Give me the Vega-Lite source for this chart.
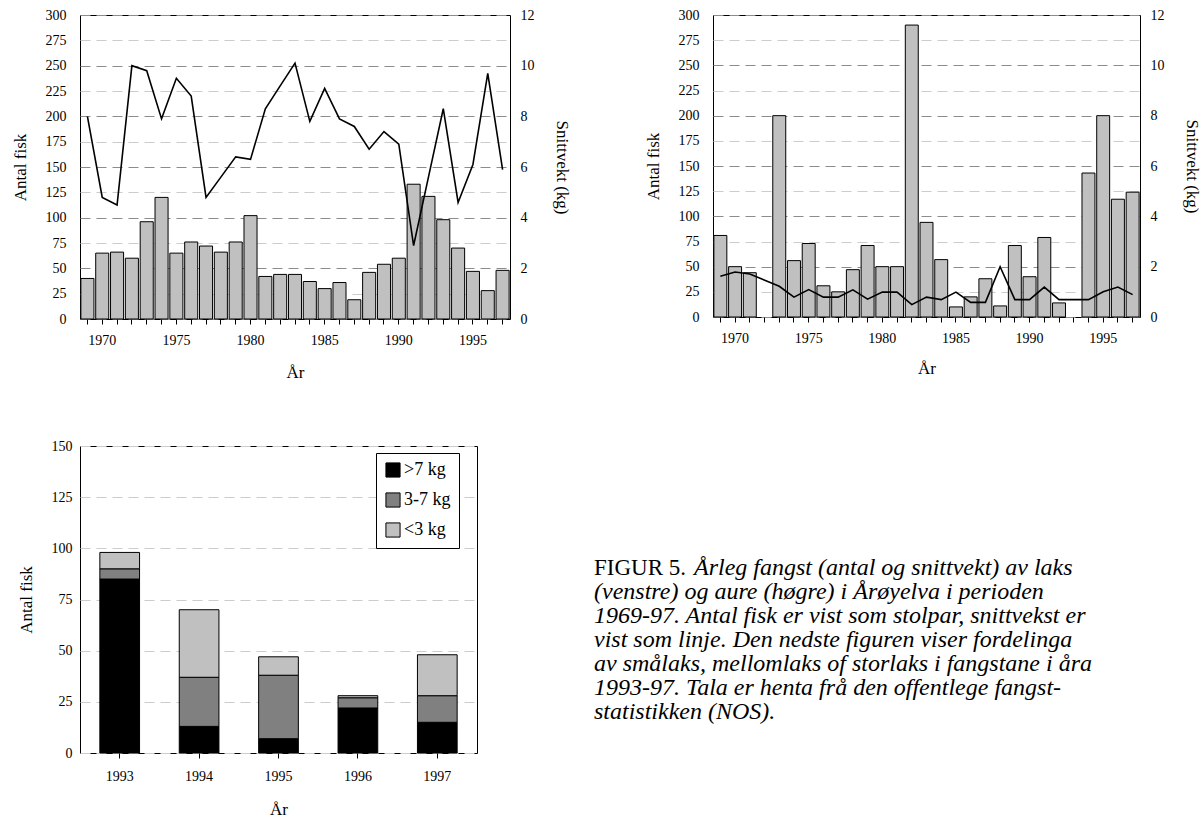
{
  "$schema": "https://vega.github.io/schema/vega-lite/v6.json",
  "background": "#ffffff",
  "padding": {"left": 10, "top": 7, "right": 0, "bottom": 0},
  "config": {
    "font": "Liberation Serif",
    "view": {"stroke": "#000000", "strokeWidth": 1},
    "axis": {
      "labelFont": "Liberation Serif",
      "titleFont": "Liberation Serif",
      "labelFontSize": 14,
      "titleFontSize": 17,
      "titleFontWeight": "normal",
      "labelColor": "#000000",
      "titleColor": "#000000",
      "domain": false,
      "tickColor": "#000000"
    }
  },
  "datasets": {
    "laks": [
      {"year": 1969, "antal": 40, "kg": 8.0},
      {"year": 1970, "antal": 65, "kg": 4.8},
      {"year": 1971, "antal": 66, "kg": 4.5},
      {"year": 1972, "antal": 60, "kg": 10.0},
      {"year": 1973, "antal": 96, "kg": 9.8},
      {"year": 1974, "antal": 120, "kg": 7.9},
      {"year": 1975, "antal": 65, "kg": 9.5},
      {"year": 1976, "antal": 76, "kg": 8.8},
      {"year": 1977, "antal": 72, "kg": 4.8},
      {"year": 1978, "antal": 66, "kg": 5.6},
      {"year": 1979, "antal": 76, "kg": 6.4},
      {"year": 1980, "antal": 102, "kg": 6.3},
      {"year": 1981, "antal": 42, "kg": 8.3},
      {"year": 1982, "antal": 44, "kg": 9.2},
      {"year": 1983, "antal": 44, "kg": 10.1},
      {"year": 1984, "antal": 37, "kg": 7.8},
      {"year": 1985, "antal": 30, "kg": 9.1},
      {"year": 1986, "antal": 36, "kg": 7.9},
      {"year": 1987, "antal": 19, "kg": 7.6},
      {"year": 1988, "antal": 46, "kg": 6.7},
      {"year": 1989, "antal": 54, "kg": 7.4},
      {"year": 1990, "antal": 60, "kg": 6.9},
      {"year": 1991, "antal": 133, "kg": 2.9},
      {"year": 1992, "antal": 121, "kg": 5.6},
      {"year": 1993, "antal": 98, "kg": 8.3},
      {"year": 1994, "antal": 70, "kg": 4.6},
      {"year": 1995, "antal": 47, "kg": 6.1},
      {"year": 1996, "antal": 28, "kg": 9.7},
      {"year": 1997, "antal": 48, "kg": 5.9}
    ],
    "aure": [
      {"year": 1969, "antal": 81, "kg": 1.62},
      {"year": 1970, "antal": 50, "kg": 1.79},
      {"year": 1971, "antal": 44, "kg": 1.71},
      {"year": 1973, "antal": 200, "kg": 1.22},
      {"year": 1974, "antal": 56, "kg": 0.79},
      {"year": 1975, "antal": 73, "kg": 1.09},
      {"year": 1976, "antal": 31, "kg": 0.79},
      {"year": 1977, "antal": 25, "kg": 0.79},
      {"year": 1978, "antal": 47, "kg": 1.08},
      {"year": 1979, "antal": 71, "kg": 0.71},
      {"year": 1980, "antal": 50, "kg": 0.99},
      {"year": 1981, "antal": 50, "kg": 0.99},
      {"year": 1982, "antal": 290, "kg": 0.49},
      {"year": 1983, "antal": 94, "kg": 0.79},
      {"year": 1984, "antal": 57, "kg": 0.69},
      {"year": 1985, "antal": 10, "kg": 0.99},
      {"year": 1986, "antal": 20, "kg": 0.58},
      {"year": 1987, "antal": 38, "kg": 0.58},
      {"year": 1988, "antal": 11, "kg": 2.0},
      {"year": 1989, "antal": 71, "kg": 0.69},
      {"year": 1990, "antal": 40, "kg": 0.69},
      {"year": 1991, "antal": 79, "kg": 1.19},
      {"year": 1992, "antal": 14, "kg": 0.69},
      {"year": 1994, "antal": 143, "kg": 0.69},
      {"year": 1995, "antal": 200, "kg": 1.0},
      {"year": 1996, "antal": 117, "kg": 1.19},
      {"year": 1997, "antal": 124, "kg": 0.89}
    ],
    "split": [
      {"year": 1993, "klasse": ">7 kg", "ord": 1, "n": 85},
      {"year": 1993, "klasse": "3-7 kg", "ord": 2, "n": 5},
      {"year": 1993, "klasse": "<3 kg", "ord": 3, "n": 8},
      {"year": 1994, "klasse": ">7 kg", "ord": 1, "n": 13},
      {"year": 1994, "klasse": "3-7 kg", "ord": 2, "n": 24},
      {"year": 1994, "klasse": "<3 kg", "ord": 3, "n": 33},
      {"year": 1995, "klasse": ">7 kg", "ord": 1, "n": 7},
      {"year": 1995, "klasse": "3-7 kg", "ord": 2, "n": 31},
      {"year": 1995, "klasse": "<3 kg", "ord": 3, "n": 9},
      {"year": 1996, "klasse": ">7 kg", "ord": 1, "n": 22},
      {"year": 1996, "klasse": "3-7 kg", "ord": 2, "n": 5},
      {"year": 1996, "klasse": "<3 kg", "ord": 3, "n": 1},
      {"year": 1997, "klasse": ">7 kg", "ord": 1, "n": 15},
      {"year": 1997, "klasse": "3-7 kg", "ord": 2, "n": 13},
      {"year": 1997, "klasse": "<3 kg", "ord": 3, "n": 20}
    ],
    "caption": [
      {"line": 1, "part": "head", "text": "FIGUR 5."},
      {"line": 1, "part": "lead", "text": "Årleg fangst (antal og snittvekt) av laks"},
      {"line": 2, "part": "body", "text": "(venstre) og aure (høgre) i Årøyelva i perioden"},
      {"line": 3, "part": "body", "text": "1969-97. Antal fisk er vist som stolpar, snittvekst er"},
      {"line": 4, "part": "body", "text": "vist som linje. Den nedste figuren viser fordelinga"},
      {"line": 5, "part": "body", "text": "av smålaks, mellomlaks of storlaks i fangstane i åra"},
      {"line": 6, "part": "body", "text": "1993-97. Tala er henta frå den offentlege fangst-"},
      {"line": 7, "part": "body", "text": "statistikken (NOS)."}
    ]
  },
  "columns": 1,
  "align": "none",
  "spacing": 57,
  "resolve": {"legend": {"color": "independent"}},
  "concat": [
    {
      "spacing": 72,
      "hconcat": [
        {
          "width": 430,
          "height": 304,
          "data": {"name": "laks"},
          "layer": [
            {
              "mark": {"type": "bar", "fill": "#c0c0c0", "stroke": "#000000", "strokeWidth": 1},
              "encoding": {
                "x": {
                  "field": "year", "type": "ordinal",
                  "scale": {"domain": [1969,1970,1971,1972,1973,1974,1975,1976,1977,1978,1979,1980,1981,1982,1983,1984,1985,1986,1987,1988,1989,1990,1991,1992,1993,1994,1995,1996,1997], "paddingInner": 0.12, "paddingOuter": 0.06},
                  "axis": {"title": "År", "labelAngle": 0, "ticks": true, "tickSize": 5, "labelPadding": 9, "titlePadding": 17, "labelExpr": "datum.value % 5 == 0 ? datum.label : ''"}
                },
                "y": {
                  "field": "antal", "type": "quantitative",
                  "scale": {"domain": [0, 300]},
                  "axis": {
                    "title": "Antal fisk", "values": [0,25,50,75,100,125,150,175,200,225,250,275,300],
                    "ticks": false, "labelPadding": 14, "titlePadding": 16,
                    "gridDash": [10, 6], "gridWidth": 1.2,
                    "gridColor": {"condition": {"test": "datum.value % 50 === 0", "value": "#8c8c8c"}, "value": "#cccccc"}
                  }
                }
              }
            },
            {
              "mark": {"type": "line", "color": "#000000", "strokeWidth": 1.6},
              "encoding": {
                "x": {"field": "year", "type": "ordinal"},
                "y": {
                  "field": "kg", "type": "quantitative",
                  "scale": {"domain": [0, 12]},
                  "axis": {"orient": "right", "title": "Snittvekt (kg)", "titleAngle": 90, "values": [0,2,4,6,8,10,12], "grid": false, "ticks": false, "labelPadding": 10, "titlePadding": 18}
                }
              }
            }
          ],
          "resolve": {"scale": {"y": "independent"}}
        },
        {
          "width": 427,
          "height": 302,
          "data": {"name": "aure"},
          "layer": [
            {
              "mark": {"type": "bar", "fill": "#c0c0c0", "stroke": "#000000", "strokeWidth": 1},
              "encoding": {
                "x": {
                  "field": "year", "type": "ordinal",
                  "scale": {"domain": [1969,1970,1971,1972,1973,1974,1975,1976,1977,1978,1979,1980,1981,1982,1983,1984,1985,1986,1987,1988,1989,1990,1991,1992,1993,1994,1995,1996,1997], "paddingInner": 0.12, "paddingOuter": 0.06},
                  "axis": {"title": "År", "labelAngle": 0, "ticks": true, "tickSize": 5, "labelPadding": 9, "titlePadding": 15, "labelExpr": "datum.value % 5 == 0 ? datum.label : ''"}
                },
                "y": {
                  "field": "antal", "type": "quantitative",
                  "scale": {"domain": [0, 300]},
                  "axis": {
                    "title": "Antal fisk", "values": [0,25,50,75,100,125,150,175,200,225,250,275,300],
                    "ticks": false, "labelPadding": 14, "titlePadding": 16,
                    "gridDash": [10, 6], "gridWidth": 1.2,
                    "gridColor": {"condition": {"test": "datum.value % 50 === 0", "value": "#8c8c8c"}, "value": "#cccccc"}
                  }
                }
              }
            },
            {
              "mark": {"type": "line", "color": "#000000", "strokeWidth": 1.6},
              "encoding": {
                "x": {"field": "year", "type": "ordinal"},
                "y": {
                  "field": "kg", "type": "quantitative",
                  "scale": {"domain": [0, 12]},
                  "axis": {"orient": "right", "title": "Snittvekt (kg)", "titleAngle": 90, "values": [0,2,4,6,8,10,12], "grid": false, "ticks": false, "labelPadding": 10, "titlePadding": 18}
                }
              }
            }
          ],
          "resolve": {"scale": {"y": "independent"}}
        }
      ]
    },
    {
      "spacing": 116,
      "resolve": {"legend": {"color": "independent"}},
      "hconcat": [
        {
          "width": 397,
          "height": 307,
          "data": {"name": "split"},
          "mark": {"type": "bar", "stroke": "#000000", "strokeWidth": 1},
          "encoding": {
            "x": {
              "field": "year", "type": "ordinal",
              "scale": {"paddingInner": 0.5, "paddingOuter": 0.25},
              "axis": {"title": "År", "labelAngle": 0, "ticks": true, "tickSize": 5, "labelPadding": 11, "titlePadding": 18}
            },
            "y": {
              "field": "n", "type": "quantitative", "stack": "zero",
              "scale": {"domain": [0, 150]},
              "axis": {"title": "Antal fisk", "values": [0,25,50,75,100,125,150], "ticks": false, "labelPadding": 8, "titlePadding": 16, "gridDash": [10, 6], "gridWidth": 1.2, "gridColor": "#cccccc"}
            },
            "color": {
              "field": "klasse", "type": "nominal",
              "scale": {"domain": [">7 kg", "3-7 kg", "<3 kg"], "range": ["#000000", "#808080", "#c0c0c0"]},
              "legend": {
                "title": null, "orient": "none", "legendX": 296, "legendY": 7,
                "strokeColor": "#000000", "fillColor": "#ffffff", "padding": 8,
                "symbolType": "square", "symbolSize": 200, "symbolStrokeColor": "#000000", "symbolStrokeWidth": 1,
                "labelFont": "Liberation Serif", "labelFontSize": 18, "labelColor": "#000000", "labelOffset": 2, "rowPadding": 10
              }
            },
            "order": {"field": "ord", "type": "quantitative"}
          }
        },
        {
          "width": 620,
          "height": 307,
          "data": {"name": "caption"},
          "view": {"stroke": null},
          "encoding": {
            "x": {"datum": 0, "type": "quantitative", "scale": {"domain": [0, 1]}, "axis": null},
            "y": {"field": "line", "type": "quantitative", "scale": {"domain": [-4.1, 8.69], "reverse": true}, "axis": null},
            "text": {"field": "text"}
          },
          "layer": [
            {
              "transform": [{"filter": "datum.part == 'head'"}],
              "mark": {"type": "text", "align": "left", "baseline": "middle", "font": "Liberation Serif", "fontSize": 23, "color": "#000000"}
            },
            {
              "transform": [{"filter": "datum.part == 'lead'"}],
              "mark": {"type": "text", "align": "left", "baseline": "middle", "font": "Liberation Serif", "fontStyle": "italic", "fontSize": 24, "color": "#000000", "dx": 100}
            },
            {
              "transform": [{"filter": "datum.part == 'body'"}],
              "mark": {"type": "text", "align": "left", "baseline": "middle", "font": "Liberation Serif", "fontStyle": "italic", "fontSize": 24, "color": "#000000"}
            }
          ]
        }
      ]
    }
  ]
}
